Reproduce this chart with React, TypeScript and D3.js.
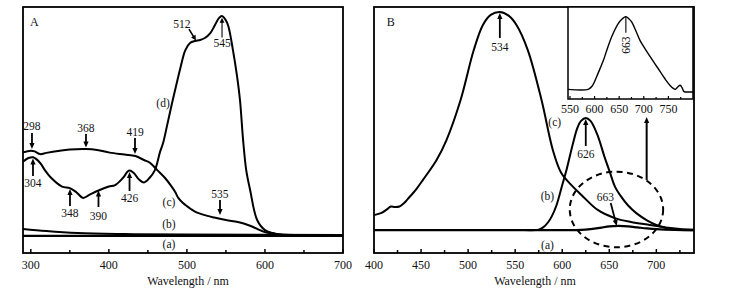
import React from 'react';
import * as d3 from 'd3';

const FONT = '"Liberation Serif", "Times New Roman", serif';

// Panel A spectra: [wavelength nm, relative absorbance]
const specA_a: [number, number][] = [[290, 7.0], [400, 7.0], [500, 7.0], [600, 7.0], [700, 7.0]];
const specA_b: [number, number][] = [[290, 9.8], [320, 8.9], [360, 8.1], [420, 7.7], [500, 7.5], [700, 7.3]];
const specA_c: [number, number][] = [
  [290, 40.9], [300, 41.6], [305, 41.3], [312, 40.2], [320, 40.7], [335, 41.5], [350, 42.1], [371, 42.3],
  [385, 41.9], [401, 40.8], [420, 40.0], [434, 39.4], [445, 37.8], [453, 36.6], [462, 33.7], [472, 30.5],
  [480, 27.2], [485, 24.8], [489, 22.4], [495, 20.3], [505, 17.9], [511, 16.7], [525, 15.2], [535, 14.4],
  [550, 13.4], [568, 12.4], [580, 11.2], [590, 9.8], [600, 8.5], [610, 7.9], [620, 7.5], [700, 7.3],
];
const specA_d: [number, number][] = [
  [290, 37.1], [297, 38.6], [303, 38.9], [312, 36.6], [318, 33.7], [325, 30.9], [340, 27.0], [350, 26.4],
  [358, 24.8], [367, 22.4], [375, 23.6], [386, 25.3], [400, 27.0], [408, 27.6], [418, 30.5], [426, 33.5],
  [432, 32.5], [438, 30.1], [445, 28.7], [452, 30.5], [459, 33.7], [465.6, 41.1], [469.5, 44.7], [475, 52.4],
  [481, 61.0], [487, 69.1], [491, 74.4], [498, 82.5], [504, 85.4], [510.5, 86.2], [517, 86.6], [523, 87.4],
  [530, 89.4], [536, 92.7], [541, 95.5], [545, 96.3], [549, 95.1], [553, 92.3], [559, 82.5], [564, 72.4],
  [568, 62.2], [572, 45.9], [576, 33.7], [581, 25.6], [590, 13.4], [600, 9.3], [610, 8.1], [620, 7.5], [700, 7.3],
];

// Panel B spectra: [wavelength nm, relative intensity]
const specB_a: [number, number][] = [
  [400, 9.3], [500, 9.3], [600, 9.3], [620, 9.4], [630, 9.7], [640, 10.2], [650, 10.8], [660, 11.0],
  [670, 10.8], [680, 10.4], [690, 10.0], [700, 9.7], [720, 9.4], [740, 9.3],
];
const specB_b: [number, number][] = [
  [560, 9.3], [575, 9.5], [580, 10.5], [585, 12.5], [589, 15], [594, 19.5], [600, 27.6], [605, 34.5],
  [611, 43.9], [616, 50.8], [620, 53.7], [625, 54.9], [630, 53.7], [637, 48.4], [645, 39], [650.5, 33],
  [656, 27], [662.8, 22.8], [670, 19.3], [679, 16.1], [690, 13.3], [700, 11.4], [710, 10.2], [720, 9.5], [740, 9.3],
];
const specB_c: [number, number][] = [
  [400, 15.4], [408, 16.3], [413, 17.5], [418, 18.9], [422, 18.7], [427, 18.9], [432, 20.3], [436, 22.0],
  [445, 26.0], [452, 29.7], [466.5, 37.8], [477, 45.9], [492, 62.2], [506, 82.5], [515.7, 92.7], [524, 96.8],
  [533.7, 98.0], [543, 96.5], [551.4, 92.7], [563.4, 82.5], [578, 62.2], [590, 41.9], [599, 32.5], [610, 27.5],
  [620.4, 23.6], [637.7, 17.5], [655.7, 14.2], [673, 12.6], [693, 11.4], [710, 10.4], [725, 9.8], [740, 9.5],
];
// Inset spectrum
const specInset: [number, number][] = [
  [546, 10.5], [587, 10.5], [595, 14], [604, 24], [611, 33], [618, 42], [626, 55], [635, 68], [648, 82],
  [656, 87], [663.6, 89.5], [670, 87], [675, 84], [684, 74], [692, 64], [702, 55], [713, 46], [723, 38],
  [733, 30], [743, 22], [753, 15], [760, 11.5], [764, 10.5], [769, 13], [774, 15], [778, 12], [782, 8],
  [790, 7.6], [800, 7.6],
];

const ticksA = [300, 400, 500, 600, 700];
const minorA = [350, 450, 550, 650];
const ticksB = [400, 450, 500, 550, 600, 650, 700];
const minorB = [425, 475, 525, 575, 625, 675, 725];
const ticksI = [550, 600, 650, 700, 750];
const minorI = [575, 625, 675, 725, 775];

// annotation arrows: label, wavelength, tail value, tip value, label value
const arrowsA = [
  { t: '298', wl: 301.5, tail: 48.8, tip: 42.3, ly: 51.6 },
  { t: '368', wl: 370.7, tail: 48.4, tip: 42.9, ly: 51.0 },
  { t: '419', wl: 433.5, tail: 46.7, tip: 40.2, ly: 49.3 },
  { t: '304', wl: 302.8, tail: 31.3, tip: 38.4, ly: 28.5 },
  { t: '348', wl: 350.2, tail: 19.1, tip: 26.0, ly: 16.3 },
  { t: '390', wl: 386.7, tail: 18.7, tip: 25.4, ly: 15.2 },
  { t: '426', wl: 426.5, tail: 25.2, tip: 32.9, ly: 22.4 },
  { t: '535', wl: 542.4, tail: 21.5, tip: 15.4, ly: 24.0 },
];
const arrowsB = [
  { t: '534', wl: 533.7, tail: 87.4, tip: 97.6, ly: 83.9 },
  { t: '626', wl: 625, tail: 43.5, tip: 54.5, ly: 40.2 },
];
const labelsA = [
  { t: '(d)', wl: 469.4, v: 61 },
  { t: '(c)', wl: 477, v: 20.7 },
  { t: '(b)', wl: 477, v: 11.8 },
  { t: '(a)', wl: 477, v: 3.7 },
];
const labelsB = [
  { t: '(c)', wl: 592, v: 53.4 },
  { t: '(b)', wl: 584.3, v: 23.2 },
  { t: '(a)', wl: 584.3, v: 3.3 },
];

const xA = d3.scaleLinear().domain([290, 700]).range([23, 343]);
const xB = d3.scaleLinear().domain([400, 740]).range([374, 694]);
const yM = d3.scaleLinear().domain([0, 100]).range([253, 7]);
const xI = d3.scaleLinear().domain([546, 800]).range([568, 693]);
const yI = d3.scaleLinear().domain([0, 100]).range([99, 7]);

function path(data: [number, number][], xs: any, ys: any) {
  return d3.line<[number, number]>()
    .x(d => xs(d[0]))
    .y(d => ys(d[1]))
    .curve(d3.curveCatmullRom.alpha(0.5))(data) || '';
}

function Arrow({ x1, y1, x2, y2, w = 1.8, head = 6, hw = 2.6 }: any) {
  const dx = x2 - x1, dy = y2 - y1;
  const L = Math.sqrt(dx * dx + dy * dy) || 1;
  const ux = dx / L, uy = dy / L;
  const bx = x2 - ux * head, by = y2 - uy * head;
  const px = -uy, py = ux;
  return (
    <g>
      <line x1={x1} y1={y1} x2={bx + ux} y2={by + uy} stroke="#000" strokeWidth={w} />
      <polygon points={`${x2},${y2} ${bx + px * hw},${by + py * hw} ${bx - px * hw},${by - py * hw}`} fill="#000" />
    </g>
  );
}

const T = (props: any) => (
  <text fontFamily={FONT} fontSize={12} textAnchor="middle" dominantBaseline="central" fill="#111" {...props} />
);

export default function App() {
  const curve = { fill: 'none', stroke: '#000', strokeWidth: 2, strokeLinejoin: 'round' as const };
  return (
    <svg width={730} height={293} style={{ position: 'absolute', left: 0, top: 0, background: '#fff' }}>
      {/* Panel A */}
      <g>
        <path d={path(specA_a, xA, yM)} {...curve} strokeWidth={2.2} />
        <path d={path(specA_b, xA, yM)} {...curve} />
        <path d={path(specA_c, xA, yM)} {...curve} />
        <path d={path(specA_d, xA, yM)} {...curve} />
        <rect x={23} y={7} width={320} height={246} fill="none" stroke="#000" strokeWidth={1.8} />
        {ticksA.map(t => (
          <g key={'ta' + t}>
            <line x1={xA(t)} x2={xA(t)} y1={253} y2={249} stroke="#000" strokeWidth={1.5} />
            <T x={xA(t)} y={265}>{t}</T>
          </g>
        ))}
        {minorA.map(t => (
          <line key={'ma' + t} x1={xA(t)} x2={xA(t)} y1={253} y2={250} stroke="#000" strokeWidth={1.5} />
        ))}
        <T x={188} y={281}>Wavelength / nm</T>
        <T x={xA(299)} y={yM(93.9)} textAnchor="start">A</T>
        {arrowsA.map(a => (
          <g key={'aa' + a.t}>
            <Arrow x1={xA(a.wl)} y1={yM(a.tail)} x2={xA(a.wl)} y2={yM(a.tip)} />
            <T x={xA(a.wl)} y={yM(a.ly)} fontSize={11.5}>{a.t}</T>
          </g>
        ))}
        <Arrow x1={xA(545)} y1={yM(87.6)} x2={xA(545)} y2={yM(95.6)} w={1.1} head={5} hw={2.4} />
        <T x={xA(545)} y={yM(85.2)} fontSize={11.5}>545</T>
        <Arrow x1={xA(502.7)} y1={yM(91)} x2={xA(511.6)} y2={yM(86.4)} w={1.6} head={5} />
        <T x={xA(493.7)} y={yM(92.9)} fontSize={11.5}>512</T>
        {labelsA.map(l => (
          <T key={'la' + l.t} x={xA(l.wl)} y={yM(l.v)} fontSize={11.5}>{l.t}</T>
        ))}
      </g>

      {/* Panel B */}
      <g>
        <path d={path(specB_c, xB, yM)} {...curve} />
        <path d={path(specB_b, xB, yM)} {...curve} />
        <path d={path(specB_a, xB, yM)} {...curve} strokeWidth={2.2} />
        <rect x={374} y={7} width={320} height={246} fill="none" stroke="#000" strokeWidth={1.8} />
        {ticksB.map(t => (
          <g key={'tb' + t}>
            <line x1={xB(t)} x2={xB(t)} y1={253} y2={249} stroke="#000" strokeWidth={1.5} />
            <T x={xB(t)} y={265}>{t}</T>
          </g>
        ))}
        {minorB.map(t => (
          <line key={'mb' + t} x1={xB(t)} x2={xB(t)} y1={253} y2={250} stroke="#000" strokeWidth={1.5} />
        ))}
        <T x={535} y={281}>Wavelength / nm</T>
        <T x={xB(413.5)} y={yM(94)} textAnchor="start">B</T>
        {arrowsB.map(a => (
          <g key={'ab' + a.t}>
            <Arrow x1={xB(a.wl)} y1={yM(a.tail)} x2={xB(a.wl)} y2={yM(a.tip)} />
            <T x={xB(a.wl)} y={yM(a.ly)} fontSize={11.5}>{a.t}</T>
          </g>
        ))}
        <Arrow x1={xB(651.5)} y1={yM(20.3)} x2={xB(657.9)} y2={yM(11)} />
        <T x={xB(645.9)} y={yM(22.9)} fontSize={11.5}>663</T>
        <Arrow x1={xB(689.7)} y1={yM(29.7)} x2={xB(689.7)} y2={yM(55.3)} w={2} />
        <ellipse cx={xB(657.6)} cy={yM(17.7)} rx={46.7} ry={37.8} fill="none" stroke="#000"
          strokeWidth={2} strokeDasharray="6 4.5" />
        {labelsB.map(l => (
          <T key={'lb' + l.t} x={xB(l.wl)} y={yM(l.v)} fontSize={11.5}>{l.t}</T>
        ))}
      </g>

      {/* Inset */}
      <g>
        <rect x={568} y={7} width={125} height={92} fill="#fff" stroke="#000" strokeWidth={1.5} />
        <path d={path(specInset, xI, yI)} fill="none" stroke="#000" strokeWidth={1.4} />
        {ticksI.map(t => (
          <g key={'ti' + t}>
            <line x1={xI(t)} x2={xI(t)} y1={99} y2={96} stroke="#000" strokeWidth={1.2} />
            <T x={xI(t)} y={108.5}>{t}</T>
          </g>
        ))}
        {minorI.map(t => (
          <line key={'mi' + t} x1={xI(t)} x2={xI(t)} y1={99} y2={97} stroke="#000" strokeWidth={1.2} />
        ))}
        <line x1={xI(663.6)} x2={xI(663.6)} y1={yI(89.5)} y2={yI(72)} stroke="#000" strokeWidth={1.1} />
        <T x={xI(663.6)} y={yI(58.5)} fontSize={11.5}
          transform={`rotate(-90 ${xI(663.6)} ${yI(58.5)})`}>663</T>
      </g>
    </svg>
  );
}
